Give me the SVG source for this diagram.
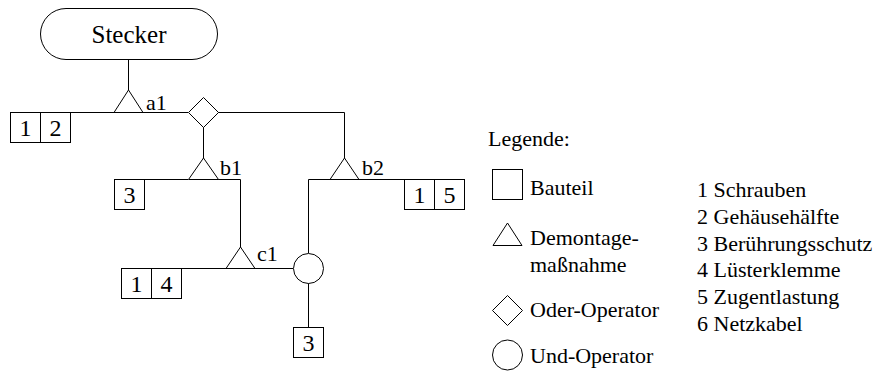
<svg xmlns="http://www.w3.org/2000/svg" width="876" height="374" viewBox="0 0 876 374">
<style>
.s{fill:#fff;stroke:#000;stroke-width:1}
.l{fill:none;stroke:#000;stroke-width:1}
.t{font-family:"Liberation Serif","DejaVu Serif","Noto Serif",serif;font-size:22px;fill:#000}
.d{font-family:"Liberation Serif","DejaVu Serif","Noto Serif",serif;font-size:24px;fill:#000;text-anchor:middle}
</style>
<rect width="876" height="374" fill="#fff"/>
<g id="connectors">
<path class="l" d="M128.5 60V90"/>
<path class="l" d="M70 112.5H188"/>
<path class="l" d="M218 112.5H344.5V158"/>
<path class="l" d="M203.5 127V158"/>
<path class="l" d="M144 179.5H188"/>
<path class="l" d="M218 179.5H240.5V247"/>
<path class="l" d="M181 268.5H226"/>
<path class="l" d="M255 268.5H293"/>
<path class="l" d="M330 179.5H308.5V253"/>
<path class="l" d="M308.5 283V327"/>
<path class="l" d="M359 179.5H404"/>
</g>
<g id="stecker">
<rect class="s" x="40.5" y="8.5" width="177" height="51" rx="25.5"/>
<text class="d" x="129" y="43" style="font-size:25px">Stecker</text>
</g>
<g id="a1">
<polygon class="s" points="128.5,90 114,112.5 143,112.5"/>
<text class="t" x="146" y="110">a1</text>
</g>
<g id="part12">
<rect class="s" x="10.5" y="112.5" width="60" height="30"/>
<path class="l" d="M40.5 112.5V142.5"/>
<text class="d" x="25.5" y="136">1</text>
<text class="d" x="55.5" y="136">2</text>
</g>
<g id="oder">
<polygon class="s" points="203.5,97.5 218.5,112.5 203.5,127.5 188.5,112.5"/>
</g>
<g id="b1">
<polygon class="s" points="203.5,158 188.5,179.5 218.5,179.5"/>
<text class="t" x="220" y="175">b1</text>
</g>
<g id="part3a">
<rect class="s" x="114.5" y="179.5" width="30" height="30"/>
<text class="d" x="129.5" y="203">3</text>
</g>
<g id="c1">
<polygon class="s" points="240.5,247 226,268.5 255,268.5"/>
<text class="t" x="257" y="261">c1</text>
</g>
<g id="part14">
<rect class="s" x="121.5" y="268.5" width="60" height="30"/>
<path class="l" d="M151.5 268.5V298.5"/>
<text class="d" x="136.5" y="292">1</text>
<text class="d" x="166.5" y="292">4</text>
</g>
<g id="und">
<circle class="s" cx="308.5" cy="268.5" r="15"/>
</g>
<g id="part3b">
<rect class="s" x="293.5" y="327.5" width="30" height="30"/>
<text class="d" x="308.5" y="351">3</text>
</g>
<g id="b2">
<polygon class="s" points="344.5,158 330,179.5 359,179.5"/>
<text class="t" x="362" y="175">b2</text>
</g>
<g id="part15">
<rect class="s" x="404.5" y="179.5" width="60" height="30"/>
<path class="l" d="M434.5 179.5V209.5"/>
<text class="d" x="419.5" y="203">1</text>
<text class="d" x="449.5" y="203">5</text>
</g>
<g id="legend">
<text class="t" x="488" y="146">Legende:</text>
<rect class="s" x="492.5" y="169.5" width="30" height="30"/>
<text class="t" x="530" y="195">Bauteil</text>
<polygon class="s" points="507.5,223 493,245.5 522,245.5"/>
<text class="t" x="530" y="245">Demontage-</text>
<text class="t" x="530" y="272">maßnahme</text>
<polygon class="s" points="507.5,295.5 522.5,310.5 507.5,325.5 492.5,310.5"/>
<text class="t" x="530" y="317">Oder-Operator</text>
<circle class="s" cx="507.5" cy="355" r="15"/>
<text class="t" x="530" y="363">Und-Operator</text>
</g>
<g id="list">
<text class="t" x="697" y="197">1 Schrauben</text>
<text class="t" x="697" y="224">2 Gehäusehälfte</text>
<text class="t" x="697" y="251">3 Berührungsschutz</text>
<text class="t" x="697" y="277">4 Lüsterklemme</text>
<text class="t" x="697" y="304">5 Zugentlastung</text>
<text class="t" x="697" y="331">6 Netzkabel</text>
</g>
</svg>
